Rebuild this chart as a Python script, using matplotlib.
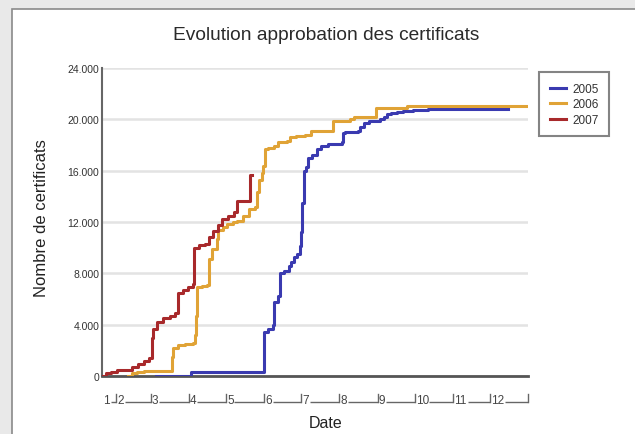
import matplotlib.pyplot as plt
import matplotlib.transforms as mtransforms
from matplotlib.patches import Rectangle

plt.rcParams['font.family'] = ['Liberation Sans', 'DejaVu Sans']

# day-of-year of each step change and cumulative number of certificates
days_2005 = [64, 93, 151, 152, 155, 159, 160, 163, 165, 168, 172, 174, 176, 179, 181, 182, 183, 184,
             186, 188, 191, 195, 198, 204, 215, 216, 218, 228, 230, 233, 237, 246, 249, 252, 255,
             260, 265, 273, 285, 350]
vals_2005 = [0, 300, 300, 3400, 3700, 4000, 5800, 6200, 8000, 8200, 8600, 8900, 9300, 9500, 10100,
             11200, 13500, 16000, 16300, 17000, 17200, 17700, 17900, 18100, 18200, 18900, 19000,
             19100, 19400, 19700, 19900, 20000, 20200, 20400, 20500, 20600, 20650, 20730, 20800, 20800]

days_2006 = [42, 45, 49, 55, 76, 77, 78, 82, 88, 94, 96, 97, 98, 102, 106, 107, 110, 114, 115, 119,
             122, 127, 130, 135, 140, 145, 146, 148, 150, 151, 153, 155, 160, 163, 171, 173, 178,
             185, 190, 207, 208, 222, 225, 242, 243, 263, 268, 366]
vals_2006 = [0, 200, 350, 400, 400, 1500, 2200, 2400, 2500, 2600, 3200, 4700, 6900, 7000, 7100, 9100,
             9900, 10700, 11400, 11600, 11850, 12000, 12100, 12450, 13000, 13200, 14300, 15300,
             15800, 16400, 17700, 17800, 17900, 18200, 18300, 18600, 18700, 18800, 19100, 19100,
             19900, 20000, 20200, 20200, 20850, 20900, 21040, 21040]

days_2007 = [21, 24, 28, 33, 40, 45, 50, 55, 59, 61, 62, 65, 70, 76, 80, 82, 86, 90, 94, 95, 99,
             104, 107, 111, 115, 118, 123, 128, 130, 141, 142]
vals_2007 = [0, 200, 350, 450, 500, 700, 900, 1200, 1400, 3000, 3700, 4200, 4500, 4700, 4900, 6500,
             6700, 6900, 7200, 10000, 10200, 10300, 10800, 11300, 11800, 12200, 12500, 12800,
             13600, 15700, 15700]

month_starts = [1, 32, 60, 91, 121, 152, 182, 213, 244, 274, 305, 335, 366]
month_labels = ['1', '2', '3', '4', '5', '6', '7', '8', '9', '10', '11', '12']
yticks = [0, 4000, 8000, 12000, 16000, 20000, 24000]
ytick_labels = ['0', '4.000', '8.000', '12.000', '16.000', '20.000', '24.000']

x0 = 20.6

fig = plt.figure(figsize=(6.35, 4.35), dpi=100, facecolor='#e9e9e9')
fig.patches.append(Rectangle((12 / 635, -0.01), 1, 1 - 10 / 435 + 0.01, transform=fig.transFigure,
                             facecolor='white', edgecolor='#8a8a8a', linewidth=1.2, zorder=-5))

ax = fig.add_axes([102 / 635, 58 / 435, 426 / 635, 308 / 435])
ax.set_facecolor('none')

ax.plot(days_2005, vals_2005, drawstyle='steps-post', color='#3a3ab0', lw=2.2, label='2005', zorder=3)
ax.plot(days_2006, vals_2006, drawstyle='steps-post', color='#e0a336', lw=2.2, label='2006', zorder=4)
ax.plot(days_2007, vals_2007, drawstyle='steps-post', color='#a8292b', lw=2.2, label='2007', zorder=5)

ax.set_xlim(x0, 366)
ax.set_ylim(0, 24000)
ax.set_yticks(yticks)
ax.set_yticklabels(ytick_labels, fontsize=7.5, color='#333333')
ax.tick_params(axis='y', length=0, pad=2)
ax.set_xticks([])
ax.grid(axis='y', color='#e3e3e3', lw=1.8)
ax.set_axisbelow(True)
for s in ['top', 'right']:
    ax.spines[s].set_visible(False)
ax.spines['left'].set_color('#666666')
ax.spines['left'].set_linewidth(1.5)
ax.spines['bottom'].set_color('#555555')
ax.spines['bottom'].set_linewidth(2)

# month axis drawn as in the original: label -- line --┘
tr = mtransforms.blended_transform_factory(ax.transData, ax.transAxes)
yb = -0.088
for i, lab in enumerate(month_labels):
    start = max(month_starts[i], x0)
    end = month_starts[i + 1]
    ax.text(start + 1, yb, lab, transform=tr, fontsize=8.5, color='#444444',
            ha='left', va='baseline', clip_on=False)
    w = 6 if len(lab) == 1 else 11
    if end - (start + 1 + w) > 0:
        ax.plot([start + 1 + w, end], [yb + 0.004, yb + 0.004], transform=tr, color='#666666',
                lw=1, clip_on=False, solid_capstyle='butt')
    ax.plot([end, end], [yb + 0.004, yb + 0.03], transform=tr, color='#666666', lw=1, clip_on=False)

fig.text(326 / 635, 1 - 424 / 435, 'Date', fontsize=11.5, color='#222222', ha='center', va='center')
fig.text(42 / 635, 1 - 218 / 435, 'Nombre de certificats', fontsize=12, color='#222222',
         ha='center', va='center', rotation=90)
fig.text(326 / 635, 1 - 35 / 435, 'Evolution approbation des certificats', fontsize=13.8,
         ha='center', va='center', color='#2a2a2a')

leg = ax.legend(loc='upper left', bbox_to_anchor=(1.012, 1.006), fontsize=8.5, frameon=True,
                fancybox=False, edgecolor='#666666', handlelength=1.4, handletextpad=0.5,
                borderpad=0.9, labelspacing=0.3)
leg.get_frame().set_linewidth(1.5)
for t in leg.get_texts():
    t.set_color('#333333')

fig.savefig('out.png', dpi=100, facecolor=fig.get_facecolor())
